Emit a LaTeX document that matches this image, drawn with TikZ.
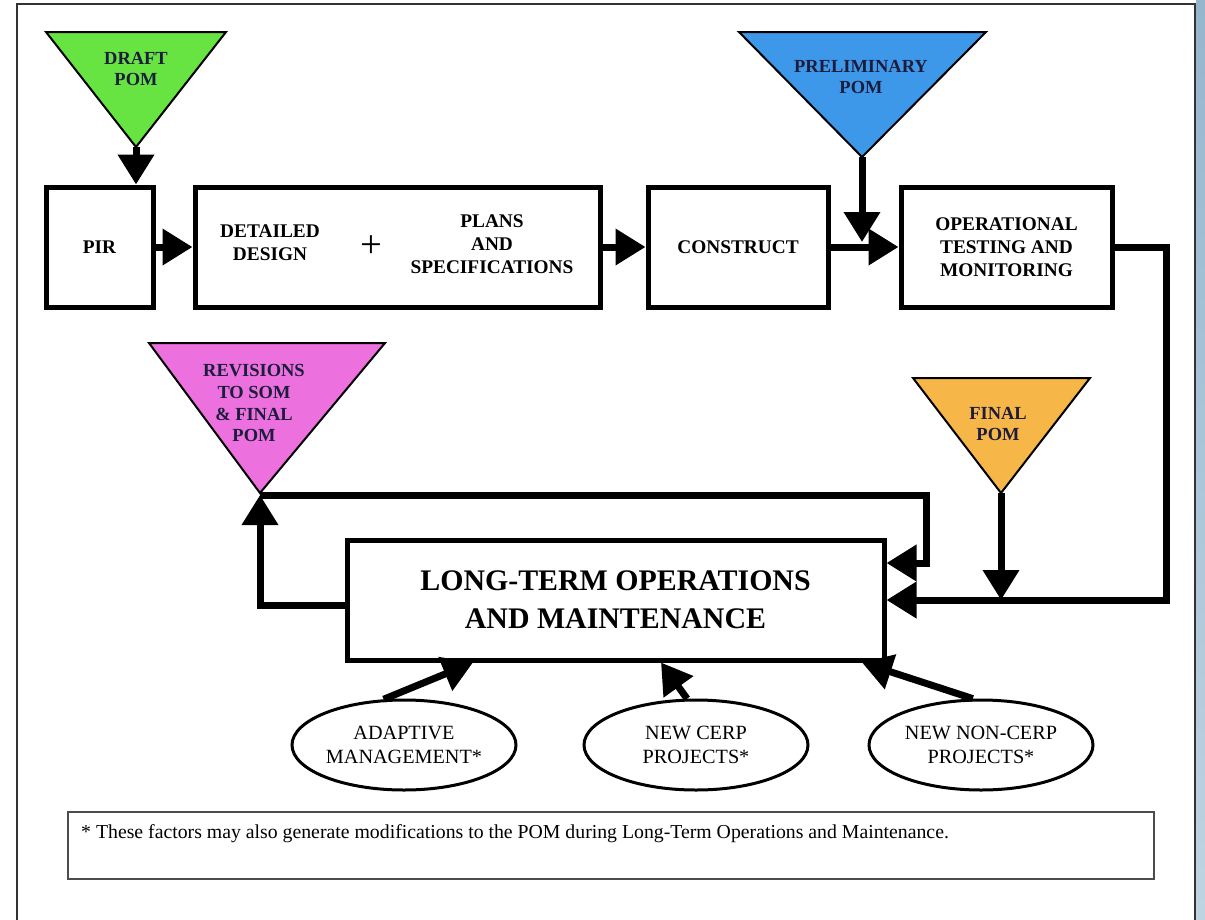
\documentclass[tikz,border=0pt]{standalone}
\usepackage{fontspec}
\setmainfont{Liberation Serif}
\usepackage{tikz}
\usepackage{xcolor}
\usetikzlibrary{positioning}
\usetikzlibrary{shapes.geometric}
\usetikzlibrary{arrows.meta}

\definecolor{draftgreen}{RGB}{104,228,66}
\definecolor{prelimblue}{RGB}{62,152,234}
\definecolor{revpink}{RGB}{236,112,222}
\definecolor{finalorange}{RGB}{246,182,72}
\definecolor{stripblue}{RGB}{150,182,206}
\definecolor{pomink}{RGB}{28,28,60}

\tikzstyle{stage}=[draw, line width=1mm, minimum height=2.4cm, align=center, font=\fontsize{11}{13}\selectfont\bfseries]
\tikzstyle{pom}=[draw, line width=0.4mm]
\tikzstyle{pomtext}=[align=center, text=pomink, font=\fontsize{10.5}{12.5}\selectfont\bfseries]
\tikzstyle{factor}=[draw, ellipse, line width=0.6mm, minimum width=4.48cm, minimum height=1.8cm, inner sep=0pt, align=center, font=\fontsize{11.5}{13.8}\selectfont]
\tikzstyle{link}=[-{Triangle[length=6mm, width=7mm]}, line width=1.4mm]

\begin{document}
\begin{tikzpicture}[node distance = 1.3cm, auto]
    \useasboundingbox (0,0) rectangle (24.1,-18.38);
    \shade[top color=stripblue, bottom color=stripblue!60] (23.92,0) rectangle (24.1,-18.38);
    \draw[line width=0.4mm, black!80] (0.34,-19) -- (0.34,-0.08) -- (23.9,-0.08) -- (23.9,-19);

    % top row
    \node[stage, minimum width=2.14cm] (pir)                                at (1.99,-4.94) {PIR};
    \node[stage, minimum width=8.1cm]  (design)      [right = 0.74cm of pir]       {};
    \node[stage, minimum width=3.6cm]  (construct)   [right = 0.86cm of design]    {CONSTRUCT};
    \node[stage, minimum width=4.22cm] (operational) [right = 1.36cm of construct] {OPERATIONAL\\TESTING AND\\MONITORING};

    \node[font=\fontsize{11}{13}\selectfont\bfseries, align=center] (detailed) at (5.4,-4.86) {DETAILED\\DESIGN};
    \node[font=\fontsize{22}{24}\selectfont] (plus) at (7.42,-4.94) {+};
    \node[font=\fontsize{11}{13}\selectfont\bfseries, align=center] (plans) at (9.84,-4.88) {PLANS\\AND\\SPECIFICATIONS};

    \node[stage, minimum width=10.74cm, font=\fontsize{17}{21.6}\selectfont\bfseries] (longterm) at (12.31,-12.0) {LONG-TERM OPERATIONS\\AND MAINTENANCE};

    % POM triangles
    \draw[pom, fill=draftgreen] (0.92,-0.64) -- (4.52,-0.64) -- (2.72,-2.94) -- cycle;
    \coordinate (draft tip) at (2.72,-2.94);
    \node[pomtext] (draft) at (2.72,-1.38) {DRAFT\\POM};

    \draw[pom, fill=prelimblue] (14.78,-0.64) -- (19.72,-0.64) -- (17.24,-3.14) -- cycle;
    \coordinate (prelim tip) at (17.24,-3.14);
    \coordinate (prelim end) at (17.24,-4.84);
    \node[pomtext] (prelim) at (17.22,-1.54) {PRELIMINARY\\POM};

    \draw[pom, fill=revpink] (2.98,-6.86) -- (7.7,-6.86) -- (5.2,-9.86) -- cycle;
    \coordinate (rev tip) at (5.2,-9.9);
    \coordinate (rev corner) at (18.52,-9.9);
    \node[pomtext] (revisions) at (5.08,-8.06) {REVISIONS\\TO SOM\\\& FINAL\\POM};

    \draw[pom, fill=finalorange] (18.26,-7.56) -- (21.8,-7.56) -- (20.02,-9.86) -- cycle;
    \coordinate (final tip) at (20.02,-9.86);
    \node[pomtext] (final) at (19.96,-8.48) {FINAL\\POM};

    % factors
    \node[factor] (adaptive) at (8.08,-14.9)        {ADAPTIVE\\MANAGEMENT*};
    \node[factor] (newcerp)  [right = of adaptive]  {NEW CERP\\PROJECTS*};
    \node[factor] (noncerp)  [right = 1.16cm of newcerp] {NEW NON-CERP\\PROJECTS*};

    \node[draw=black!70, line width=0.3mm, minimum width=21.72cm, minimum height=1.34cm] (notebox) at (12.22,-16.91) {};
    \node[anchor=west, font=\fontsize{11.25}{13}\selectfont] (note) at (1.5,-16.68) {* These factors may also generate modifications to the POM during Long-Term Operations and Maintenance.};

    % flow
    \draw[link] (draft tip) -- (draft tip |- pir.north);
    \draw[link] (pir.east) -- (design.west);
    \draw[link] (design.east) -- (construct.west);
    \draw[link] (construct.east) -- (operational.west);
    \draw[link] (prelim tip) -- (prelim end);
    \draw[link] (operational.east) -- ++(1.04,0) |- (longterm.east);
    \draw[link] (final tip) -- (final tip |- longterm.east);
    \draw[link] ([yshift=-0.1cm]longterm.west) -| (rev tip);
    \draw[link] (rev tip) -- (rev corner) |- ([yshift=0.74cm]longterm.east);

    \draw[link] (adaptive.114) -- ([xshift=-2.85cm]longterm.south);
    \draw[link] (newcerp.101)  -- ([xshift=0.91cm]longterm.south);
    \draw[link] (noncerp.100)  -- ([xshift=4.93cm]longterm.south);
\end{tikzpicture}
\end{document}
